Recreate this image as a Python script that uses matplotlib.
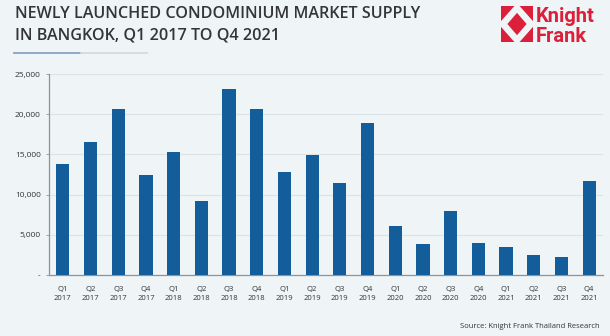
import numpy as np
import matplotlib.pyplot as plt
from matplotlib.patches import Polygon, Rectangle
from matplotlib.lines import Line2D

# newly launched condo units per quarter
quarters = ['Q1', 'Q2', 'Q3', 'Q4'] * 5
years = ['2017'] * 4 + ['2018'] * 4 + ['2019'] * 4 + ['2020'] * 4 + ['2021'] * 4
supply = [13800, 16600, 20600, 12400, 15350, 9200, 23150, 20600, 12800, 14900,
          11450, 18850, 6100, 3900, 7900, 4000, 3450, 2450, 2250, 11750]
y_ticks = [0, 5000, 10000, 15000, 20000, 25000]
y_labels = ['-', '5,000', '10,000', '15,000', '20,000', '25,000']

BG = '#EFF4F6'
BAR = '#135D9A'
TEXT = '#333538'
RED = '#DC1F3A'

W, H = 610, 336
fig = plt.figure(figsize=(W / 100, H / 100), dpi=100, facecolor=BG)


def fx(px):
    return px / W


def fy(py):
    return 1 - py / H


def diamond(cx, cy, rx, ry):
    return [(cx - rx, cy), (cx, cy + ry), (cx + rx, cy), (cx, cy - ry)]


# chart area
ax = fig.add_axes([fx(49), fy(275), fx(603 - 49), (275 - 74) / H])
ax.set_facecolor(BG)
x = np.arange(len(supply))
ax.bar(x, supply, width=0.48, color=BAR, zorder=3)
ax.set_xlim(-0.5, len(supply) - 0.5)
ax.set_ylim(0, 25000)
ax.set_yticks(y_ticks)
ax.set_yticklabels(y_labels)
ax.set_xticks(x)
ax.set_xticklabels([q + '\n' + y for q, y in zip(quarters, years)], linespacing=1.3)
ax.grid(axis='y', color='#DCE3E7', linewidth=0.8, zorder=0)
for s in ['top', 'right']:
    ax.spines[s].set_visible(False)
for s in ['left', 'bottom']:
    ax.spines[s].set_color('#8E9398')
    ax.spines[s].set_linewidth(0.9)
ax.tick_params(axis='y', labelsize=6, colors=TEXT, length=2, width=0.6, pad=4)
ax.tick_params(axis='y', color='#8E9398')
ax.tick_params(axis='x', labelsize=5.5, colors=TEXT, length=0, pad=8)
for lab in ax.get_xticklabels() + ax.get_yticklabels():
    lab.set_fontfamily('Open Sans')

# title
fig.text(fx(15), fy(18.5), 'NEWLY LAUNCHED CONDOMINIUM MARKET SUPPLY', fontsize=11.6,
         fontfamily='Open Sans', fontweight='semibold', color=TEXT, va='baseline')
fig.text(fx(15), fy(39.5), 'IN BANGKOK, Q1 2017 TO Q4 2021', fontsize=11.6,
         fontfamily='Open Sans', fontweight='semibold', color=TEXT, va='baseline')
fig.add_artist(Line2D([fx(14), fx(81)], [fy(52.5)] * 2, color='#86A3C4', lw=1.3))
fig.add_artist(Line2D([fx(81), fx(147)], [fy(52.5)] * 2, color='#D3DBDF', lw=1.3))

# logo mark: red square, white diamond band, red centre diamond
lax = fig.add_axes([fx(501), fy(42), fx(32), 36 / H])
lax.set_xlim(0, 1)
lax.set_ylim(0, 1)
lax.axis('off')
lax.add_patch(Rectangle((0, 0), 1, 1, color=RED, lw=0))
outer = Polygon(diamond(0.5, 0.5, 0.58, 0.58), closed=True, color=BG, lw=0)
lax.add_patch(outer)
outer.set_clip_path(lax.patch)
lax.add_patch(Polygon(diamond(0.5, 0.5, 0.3, 0.31), closed=True, color=RED, lw=0))

logo_font = ['Liberation Sans Narrow', 'Roboto']
fig.text(fx(536), fy(21.5), 'Knight', fontsize=14.5, family=logo_font, fontweight='bold',
         color=RED, va='baseline')
fig.text(fx(536), fy(42), 'Frank', fontsize=14.5, family=logo_font, fontweight='bold',
         color=RED, va='baseline')

fig.text(fx(600), fy(326), 'Source: Knight Frank Thailand Research', fontsize=5.5,
         fontfamily='Open Sans', color=TEXT, ha='right', va='center')

fig.savefig('out.png', dpi=100, facecolor=BG)
